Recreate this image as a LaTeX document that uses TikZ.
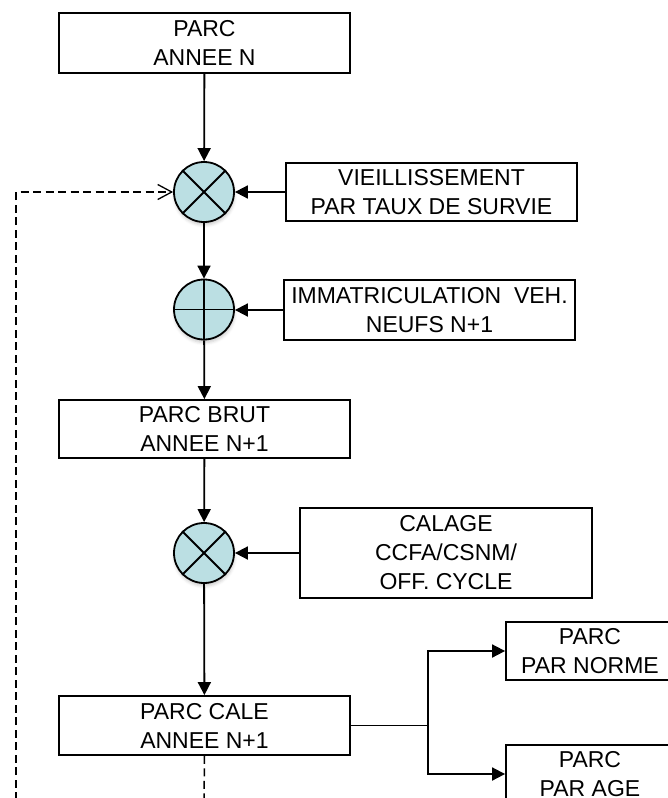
\documentclass[tikz,border=0pt]{standalone}
\usepackage{fontspec}
\setmainfont{Liberation Sans}
\usetikzlibrary{arrows.meta,shadows.blur}
\definecolor{sumfill}{RGB}{187,223,227}
\tikzset{
  box/.style={draw, line width=1.8pt, fill=white, inner sep=0pt, align=center,
    font=\fontsize{23}{29}\selectfont, minimum height=58pt},
  sumnode/.style={draw, circle, line width=1.8pt, fill=sumfill, inner sep=0pt,
    minimum size=60pt, blur shadow={shadow xshift=0.5pt, shadow yshift=-3pt, shadow opacity=20, shadow blur radius=3pt}},
  conn/.style={line width=1.8pt, -{Triangle[length=13pt,width=13pt]}},
  plain/.style={line width=1.8pt},
  dashline/.style={line width=1.5pt, dash pattern=on 8pt off 4.5pt},
}
\begin{document}
\begin{tikzpicture}[x=1pt,y=-1pt]
\useasboundingbox (0,0) rectangle (668,798);
% boxes
\node[box, minimum width=291pt, minimum height=60pt] (top) at (204.5,43) {PARC\\ANNEE N};
\node[box, minimum width=291pt] (vieil) at (431.5,192) {VIEILLISSEMENT\\PAR TAUX DE SURVIE};
\node[box, minimum width=291pt, minimum height=60pt] (immat) at (429.5,310) {IMMATRICULATION\ \ VEH.\\NEUFS N+1};
\node[box, minimum width=291pt] (brut) at (204.5,429) {PARC BRUT\\ANNEE N+1};
\node[box, minimum width=292pt, minimum height=90pt] (calage) at (446,553) {CALAGE\\CCFA/CSNM/\\OFF. CYCLE};
\node[box, minimum width=291pt, minimum height=59pt] (cale) at (204.5,725.5) {PARC CALE\\ANNEE N+1};
\node[box, minimum width=168pt] (norme) at (590,651) {PARC\\PAR NORME};
\node[box, minimum width=168pt] (age) at (590,774) {PARC\\PAR AGE};
% summing junctions
\node[sumnode] (c1) at (204,192) {};
\node[sumnode] (c2) at (204,309.5) {};
\node[sumnode] (c3) at (204,553) {};
\draw[plain] (c1.45) -- (c1.225) (c1.135) -- (c1.315);
\draw[plain] (c2.north) -- (c2.south) (c2.west) -- (c2.east);
\draw[plain] (c3.45) -- (c3.225) (c3.135) -- (c3.315);
% main flow
\draw[conn] (top) -- (c1);
\draw[conn] (c1) -- (c2);
\draw[conn] (c2) -- (brut);
\draw[conn] (brut) -- (c3);
\draw[conn] (c3) -- (cale);
\draw[conn] (vieil) -- (c1);
\draw[conn] (immat.west) -- (immat.west -| c2.east);
\draw[conn] (calage) -- (c3);
% branches
\coordinate (br) at (428,725.5);
\draw[plain] (cale.east) -- (br);
\draw[conn] (br) |- (norme.west);
\draw[conn] (br) |- (age.west);
% dashed feedback
\coordinate (d0) at (204,800);
\coordinate (d1) at (16,800);
\coordinate (d2) at (16,192);
\draw[dashline] (cale.south) -- (d0);
\draw[dashline, -{Straight Barb[length=14pt,width=15pt,line width=1.3pt]}] (d1) -- (d2) -- (c1.west);
\end{tikzpicture}
\end{document}
